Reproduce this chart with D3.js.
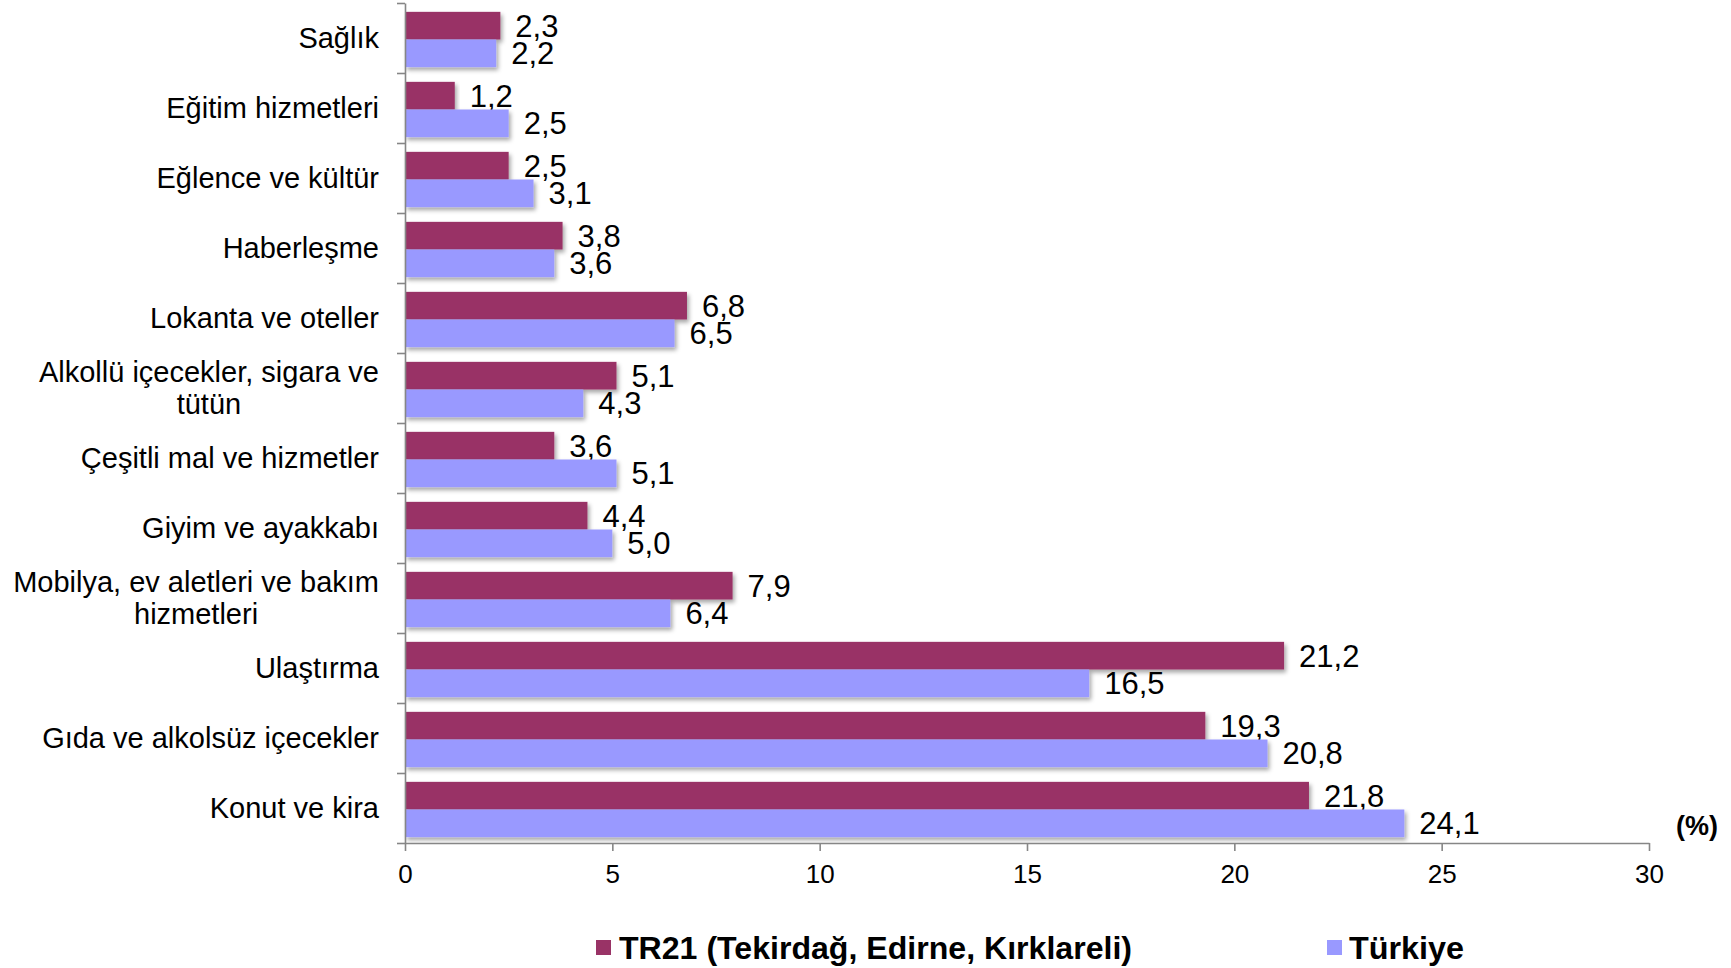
<!DOCTYPE html>
<html>
<head>
<meta charset="utf-8">
<script src="https://cdn.jsdelivr.net/npm/d3@7"></script>
<style>
  html, body { margin: 0; padding: 0; background: #fff; }
  svg { display: block; font-family: "Liberation Sans", Arial, sans-serif; }
</style>
</head>
<body>
<svg id="chart" width="1731" height="968"></svg>
<script>
// ---- Data ----
const categories = [
  "Sağlık", "Eğitim hizmetleri", "Eğlence ve kültür", "Haberleşme",
  "Lokanta ve oteller", "Alkollü içecekler, sigara ve tütün",
  "Çeşitli mal ve hizmetler", "Giyim ve ayakkabı",
  "Mobilya, ev aletleri ve bakım hizmetleri", "Ulaştırma",
  "Gıda ve alkolsüz içecekler", "Konut ve kira"
];
const categoryLines = [
  ["Sağlık"], ["Eğitim hizmetleri"], ["Eğlence ve kültür"], ["Haberleşme"],
  ["Lokanta ve oteller"], ["Alkollü içecekler, sigara ve", "tütün"],
  ["Çeşitli mal ve hizmetler"], ["Giyim ve ayakkabı"],
  ["Mobilya, ev aletleri ve bakım", "hizmetleri"], ["Ulaştırma"],
  ["Gıda ve alkolsüz içecekler"], ["Konut ve kira"]
];
const seriesNames = ["TR21 (Tekirdağ, Edirne, Kırklareli)", "Türkiye"];
const tr21Values    = [2.3, 1.2, 2.5, 3.8, 6.8, 5.1, 3.6, 4.4, 7.9, 21.2, 19.3, 21.8];
const turkiyeValues = [2.2, 2.5, 3.1, 3.6, 6.5, 4.3, 5.1, 5.0, 6.4, 16.5, 20.8, 24.1];
const xTicks = [0, 5, 10, 15, 20, 25, 30];
const unitLabel = "(%)";
const colors = ["#993366", "#9999FF"];

// ---- Layout ----
const svg = d3.select("#chart");
const mLeft = 405, mRight = 1649, mTop = 3, mBottom = 843;

const x = d3.scaleLinear().domain([0, 30]).range([mLeft, mRight]);
const y = d3.scaleBand().domain(categories).range([mTop, mBottom]).paddingInner(0.21).paddingOuter(0.105);
const ySub = d3.scaleBand().domain([0, 1]).range([0, y.bandwidth()]);

const defs = svg.append("defs");
const f = defs.append("filter").attr("id", "shadow").attr("x", "-5%").attr("y", "-30%").attr("width", "115%").attr("height", "180%");
f.append("feDropShadow").attr("dx", 2).attr("dy", 3).attr("stdDeviation", 2)
  .attr("flood-color", "#000").attr("flood-opacity", 0.35);

const data = categories.map((c, i) => ({ cat: c, lines: categoryLines[i], vals: [tr21Values[i], turkiyeValues[i]] }));

// Bars
const g = svg.append("g");
data.forEach(d => {
  d.vals.forEach((v, s) => {
    const y0 = y(d.cat) + 1.5 + ySub(s);
    g.append("rect")
      .attr("x", x(0))
      .attr("y", y0)
      .attr("width", x(v) - x(0))
      .attr("height", ySub.bandwidth())
      .attr("fill", colors[s])
      .attr("filter", "url(#shadow)");
    g.append("text")
      .attr("x", x(v) + 15)
      .attr("y", y0 + ySub.bandwidth() / 2)
      .attr("dy", "0.36em")
      .attr("font-size", 31)
      .attr("fill", "#000")
      .text(d3.format(".1f")(v).replace(".", ","));
  });
});

// Y axis (boundary ticks)
const axisColor = "#868686";
const yBound = d3.scaleLinear().domain([0, categories.length]).range([mTop, mBottom]);
const yAxis = d3.axisLeft(yBound).tickValues(d3.range(categories.length + 1))
  .tickSize(8).tickSizeOuter(0).tickFormat("");
const yg = svg.append("g").attr("transform", `translate(${mLeft},0)`).call(yAxis);
yg.selectAll("path, line").attr("stroke", axisColor).attr("stroke-width", 1.6);

// X axis
const xAxis = d3.axisBottom(x).tickValues(xTicks).tickSize(8).tickSizeOuter(0).tickPadding(14).tickFormat(d3.format("d"));
const xg = svg.append("g").attr("transform", `translate(0,${mBottom})`).call(xAxis);
xg.selectAll("path, line").attr("stroke", axisColor).attr("stroke-width", 1.6);
xg.selectAll("text").attr("font-size", 26).attr("fill", "#000").attr("font-family", "Liberation Sans, Arial, sans-serif");

// Category labels
const labelRight = 379, lineH = 32;
data.forEach(d => {
  const cy = y(d.cat) + y.bandwidth() / 2;
  const grp = svg.append("g");
  const texts = d.lines.map((ln, k) => grp.append("text")
    .attr("font-size", 29).attr("fill", "#000")
    .attr("y", cy + (k - (d.lines.length - 1) / 2) * lineH)
    .attr("dy", "0.35em")
    .text(ln));
  const widths = texts.map(t => t.node().getComputedTextLength());
  const maxW = d3.max(widths);
  const cx = labelRight - maxW / 2;
  texts.forEach(t => t.attr("x", cx).attr("text-anchor", "middle"));
});

// Unit label
svg.append("text").attr("x", 1676).attr("y", 826).attr("dy", "0.35em")
  .attr("font-size", 27).attr("font-weight", "bold").text(unitLabel);

// Legend
const legendItems = [
  { name: seriesNames[0], color: colors[0], sx: 596, tx: 619, w: 513 },
  { name: seriesNames[1], color: colors[1], sx: 1327, tx: 1349, w: 115 }
];
const lg = svg.append("g");
legendItems.forEach(it => {
  lg.append("rect").attr("x", it.sx).attr("y", 940).attr("width", 15).attr("height", 15).attr("fill", it.color);
  lg.append("text").attr("x", it.tx).attr("y", 959)
    .attr("font-size", 32).attr("font-weight", "bold")
    .attr("font-family", "'Liberation Sans Narrow', 'Liberation Sans', Arial, sans-serif")
    .attr("textLength", it.w).attr("lengthAdjust", "spacingAndGlyphs")
    .text(it.name);
});
</script>
</body>
</html>
